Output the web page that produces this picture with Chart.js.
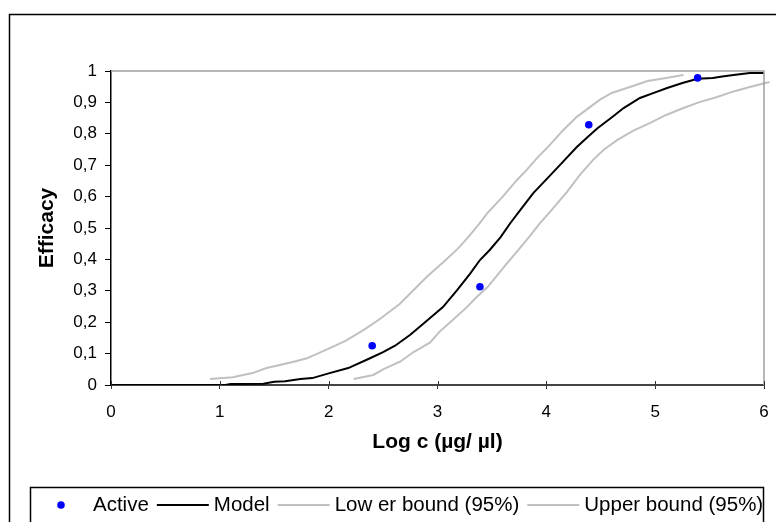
<!DOCTYPE html>
<html>
<head>
<meta charset="utf-8">
<title>Efficacy</title>
<script src="https://cdn.jsdelivr.net/npm/chart.js@4.4.1/dist/chart.umd.min.js"></script>
<style>
  html, body { margin: 0; padding: 0; background: #fff; }
  canvas { display: block; }
</style>
</head>
<body>
<canvas id="efficacyChart" width="776" height="522"></canvas>
<script>
// Active measurements
const activeX = [2.4, 3.39, 4.39, 5.39];
const activeY = [0.125, 0.313, 0.829, 0.978];

// Model curve
const modelX = [0, 1.05, 1.1, 1.4, 1.5, 1.6, 1.74, 1.85, 2.0, 2.18, 2.36, 2.5, 2.61, 2.75, 2.91, 3.05, 3.18, 3.3, 3.39, 3.48, 3.58, 3.67, 3.76, 3.88, 4.02, 4.15, 4.28, 4.38, 4.47, 4.6, 4.71, 4.86, 5.0, 5.11, 5.25, 5.39, 5.53, 5.6, 5.72, 5.87, 6.0];
const modelY = [0, 0, 0.003, 0.004, 0.01, 0.012, 0.019, 0.022, 0.037, 0.054, 0.082, 0.105, 0.125, 0.16, 0.207, 0.248, 0.302, 0.355, 0.398, 0.43, 0.471, 0.516, 0.557, 0.611, 0.662, 0.71, 0.758, 0.79, 0.818, 0.852, 0.882, 0.914, 0.932, 0.946, 0.962, 0.975, 0.978, 0.982, 0.987, 0.994, 0.994];

// Lower bound (95%)
const lowerX = [2.23, 2.41, 2.5, 2.66, 2.78, 2.93, 3.02, 3.15, 3.27, 3.36, 3.46, 3.55, 3.64, 3.73, 3.85, 3.94, 4.03, 4.19, 4.31, 4.43, 4.53, 4.65, 4.8, 4.95, 5.1, 5.26, 5.4, 5.57, 5.72, 5.87, 6.05];
const lowerY = [0.019, 0.032, 0.05, 0.075, 0.105, 0.135, 0.17, 0.21, 0.248, 0.28, 0.312, 0.35, 0.388, 0.425, 0.475, 0.515, 0.55, 0.615, 0.67, 0.717, 0.75, 0.78, 0.81, 0.834, 0.86, 0.882, 0.9, 0.917, 0.935, 0.949, 0.965];

// Upper bound (95%)
const upperX = [0.91, 1.12, 1.3, 1.43, 1.67, 1.8, 1.99, 2.15, 2.32, 2.47, 2.65, 2.9, 3.05, 3.19, 3.3, 3.39, 3.46, 3.6, 3.73, 3.82, 3.92, 4.02, 4.15, 4.28, 4.49, 4.6, 4.74, 4.93, 5.1, 5.26];
const upperY = [0.019, 0.025, 0.038, 0.054, 0.073, 0.085, 0.114, 0.14, 0.175, 0.21, 0.257, 0.344, 0.39, 0.435, 0.478, 0.516, 0.548, 0.6, 0.653, 0.685, 0.725, 0.76, 0.81, 0.854, 0.908, 0.93, 0.946, 0.968, 0.978, 0.987];

const seriesLabels = ['Active', 'Model', 'Low er bound (95%)', 'Upper bound (95%)'];

const xTicks = [0, 1, 2, 3, 4, 5, 6];

function toPoints(xs, ys) {
    return xs.map((x, i) => ({ x: x, y: ys[i] }));
}

const FONT = "'Liberation Sans', Arial, sans-serif";

// рамки, легенда и внутренние засечки оси X
const framePlugin = {
    id: 'frame',
    afterDraw(chart) {
        const ctx = chart.ctx;
        const area = chart.chartArea;
        const xScale = chart.scales.x;

        ctx.save();
        // верх и правый край области построения
        ctx.strokeStyle = '#a0a0a0';
        ctx.lineWidth = 1.5;
        ctx.beginPath();
        ctx.moveTo(area.left, area.top);
        ctx.lineTo(area.right, area.top);
        ctx.lineTo(area.right, area.bottom);
        ctx.stroke();

        // засечки оси X внутрь
        ctx.strokeStyle = '#333';
        ctx.lineWidth = 1;
        xTicks.forEach(v => {
            const px = Math.round(xScale.getPixelForValue(v)) + 0.5;
            ctx.beginPath();
            ctx.moveTo(px, area.bottom - 4);
            ctx.lineTo(px, area.bottom);
            ctx.stroke();
        });

        // внешняя рамка
        ctx.strokeStyle = '#000';
        ctx.lineWidth = 1.5;
        ctx.strokeRect(9.5, 14.5, 800, 600);

        // рамка легенды
        ctx.strokeRect(30.5, 487.5, 733, 100);

        // элементы легенды
        ctx.font = '20.5px ' + FONT;
        ctx.textBaseline = 'middle';
        ctx.fillStyle = '#000';
        const ly = 505;
        let lx = 36;
        chart.data.datasets.forEach(ds => {
            if (ds.showLine) {
                ctx.strokeStyle = ds.borderColor;
                ctx.lineWidth = ds.borderWidth;
                ctx.beginPath();
                ctx.moveTo(lx, ly);
                ctx.lineTo(lx + 52, ly);
                ctx.stroke();
            } else {
                ctx.fillStyle = ds.backgroundColor;
                ctx.beginPath();
                ctx.arc(lx + 25, ly, ds.pointRadius, 0, Math.PI * 2);
                ctx.fill();
            }
            lx += 57;
            ctx.fillStyle = '#000';
            ctx.fillText(ds.label, lx, ly);
            lx += ctx.measureText(ds.label).width + 8;
        });
        ctx.restore();
    }
};

new Chart(document.getElementById('efficacyChart'), {
    type: 'scatter',
    data: {
        datasets: [
            {
                label: seriesLabels[0],
                data: toPoints(activeX, activeY),
                backgroundColor: '#0000ff',
                borderColor: '#0000ff',
                pointRadius: 3.8,
                pointBorderWidth: 0,
                showLine: false,
            },
            {
                label: seriesLabels[1],
                data: toPoints(modelX, modelY),
                borderColor: '#000000',
                borderWidth: 2,
                pointRadius: 0,
                showLine: true,
                tension: 0,
            },
            {
                label: seriesLabels[2],
                data: toPoints(lowerX, lowerY),
                borderColor: '#c0c0c0',
                borderWidth: 2,
                pointRadius: 0,
                showLine: true,
                clip: false,
            },
            {
                label: seriesLabels[3],
                data: toPoints(upperX, upperY),
                borderColor: '#c0c0c0',
                borderWidth: 2,
                pointRadius: 0,
                showLine: true,
            },
        ],
    },
    options: {
        responsive: false,
        animation: false,
        devicePixelRatio: 1,
        layout: {
            padding: { left: 35, top: 71, right: 12, bottom: 67 },
        },
        plugins: {
            legend: { display: false },
            tooltip: { enabled: false },
        },
        scales: {
            x: {
                type: 'linear',
                min: 0,
                max: 6,
                afterBuildTicks: scale => {
                    scale.ticks = xTicks.map(v => ({ value: v }));
                },
                afterFit: scale => {
                    scale.height = 70;
                    scale.paddingLeft = 0;
                    scale.paddingRight = 0;
                },
                grid: {
                    drawOnChartArea: false,
                    drawTicks: true,
                    tickLength: 4,
                    color: '#333',
                },
                border: { color: '#444', width: 2 },
                ticks: {
                    color: '#000',
                    padding: 13,
                    maxRotation: 0,
                    font: { family: FONT, size: 17 },
                },
                title: {
                    display: true,
                    text: 'Log c (µg/ µl)',
                    color: '#000',
                    padding: 0,
                    font: { family: FONT, size: 21, weight: 'bold' },
                },
            },
            y: {
                type: 'linear',
                min: 0,
                max: 1,
                afterFit: scale => { scale.width = 76; },
                grid: {
                    drawOnChartArea: false,
                    drawTicks: true,
                    tickLength: 6,
                    color: '#000',
                },
                border: { color: '#000', width: 1.5 },
                ticks: {
                    stepSize: 0.1,
                    color: '#000',
                    padding: 8,
                    font: { family: FONT, size: 17 },
                    callback: v => (Math.round(v * 10) / 10).toString().replace('.', ','),
                },
                title: {
                    display: true,
                    text: 'Efficacy',
                    color: '#000',
                    padding: 0,
                    font: { family: FONT, size: 21, weight: 'bold' },
                },
            },
        },
    },
    plugins: [framePlugin],
});
</script>
</body>
</html>
